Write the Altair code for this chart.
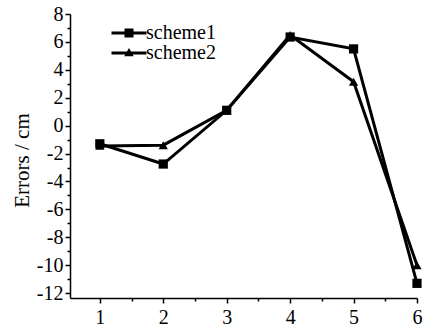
import altair as alt
import pandas as pd

x_vals = [1, 2, 3, 4, 5, 6]
scheme1 = [-1.3, -2.75, 1.1, 6.35, 5.5, -11.3]
scheme2 = [-1.45, -1.4, 1.1, 6.5, 3.15, -10.0]
series_names = ["scheme1", "scheme2"]

rows = []
for name, vals in zip(series_names, [scheme1, scheme2]):
    for xv, yv in zip(x_vals, vals):
        rows.append({"x": xv, "value": yv, "series": name})
df = pd.DataFrame(rows)

x_ticks = [1, 1.5, 2, 2.5, 3, 3.5, 4, 4.5, 5, 5.5, 6]
y_ticks = list(range(-12, 9))

FONT = "Liberation Serif"

xscale = alt.Scale(domain=[0.53, 6], nice=False, zero=False)
yscale = alt.Scale(domain=[-12.35, 8], nice=False, zero=False)

xaxis = alt.Axis(
    values=x_ticks, title=None, grid=False,
    labelExpr="datum.value % 1 == 0 ? '' + datum.value : ''",
    tickSize={"expr": "datum.value % 1 == 0 ? 5 : 3"},
    labelOverlap=False, labelPadding=4, labelFlush=False,
    labelFont=FONT, labelFontSize=20, labelColor="black",
)
yaxis = alt.Axis(
    values=y_ticks, title="Errors / cm", grid=False,
    labelExpr="datum.value % 2 == 0 ? (datum.value < 0 ? '-' + abs(datum.value) : '' + datum.value) : ''",
    tickSize={"expr": "datum.value % 2 == 0 ? 5 : 3"},
    labelOverlap=False, labelPadding=2, labelFlush=False,
    labelFont=FONT, labelFontSize=20, labelColor="black",
    titleAngle=270, titleX=-48, titleY=146, titleAlign="center",
    titleBaseline="middle", titleFontSize=21, titleFont=FONT,
    titleFontWeight="normal", titleColor="black",
)

base = alt.Chart(df)

lines = base.mark_line(color="black", strokeWidth=3).encode(
    x=alt.X("x:Q", scale=xscale, axis=xaxis),
    y=alt.Y("value:Q", scale=yscale, axis=yaxis),
    detail="series:N",
)

points = base.mark_point(filled=True, color="black", size=85, opacity=1).encode(
    x=alt.X("x:Q", scale=xscale, axis=xaxis),
    y=alt.Y("value:Q", scale=yscale, axis=yaxis),
    shape=alt.Shape("series:N",
                    scale=alt.Scale(domain=series_names, range=["square", "triangle-up"]),
                    legend=None),
)

# filled legend glyphs: a short thick line with the marker on it
legend_paths = [
    "M-3.5,-0.32H3.5V0.32H-3.5Z M-0.9,-0.9H0.9V0.9H-0.9Z",
    "M-3.5,-0.3H3.5V0.3H-3.5Z M0,-1.0L0.95,0.65H-0.95Z",
]

legend_layer = base.mark_point(filled=True, color="black", size=100, opacity=0).encode(
    x=alt.X("x:Q", scale=xscale, axis=xaxis),
    y=alt.Y("value:Q", scale=yscale, axis=yaxis),
    shape=alt.Shape("series:N",
                    scale=alt.Scale(domain=series_names, range=legend_paths),
                    legend=alt.Legend(
                        title=None, orient="none", legendX=49, legendY=9,
                        labelFont=FONT, labelFontSize=20, labelColor="black",
                        labelOffset=7, rowPadding=0, padding=0,
                        symbolOpacity=1, symbolFillColor="black",
                        symbolSize=100,
                    )),
)

chart = alt.layer(lines, points, legend_layer).resolve_scale(
    shape="independent"
).properties(
    width=347, height=284,
    autosize=alt.AutoSizeParams(type="none"),
    padding={"left": 70, "top": 14, "right": 8, "bottom": 34},
).configure_view(stroke=None).configure_axis(
    domainColor="black", domainWidth=1.5, tickColor="black", tickWidth=1.5,
    labelFont=FONT, labelFontSize=20, labelColor="black",
)

chart.save("out.html", embed_options={"renderer": "svg", "actions": False})
